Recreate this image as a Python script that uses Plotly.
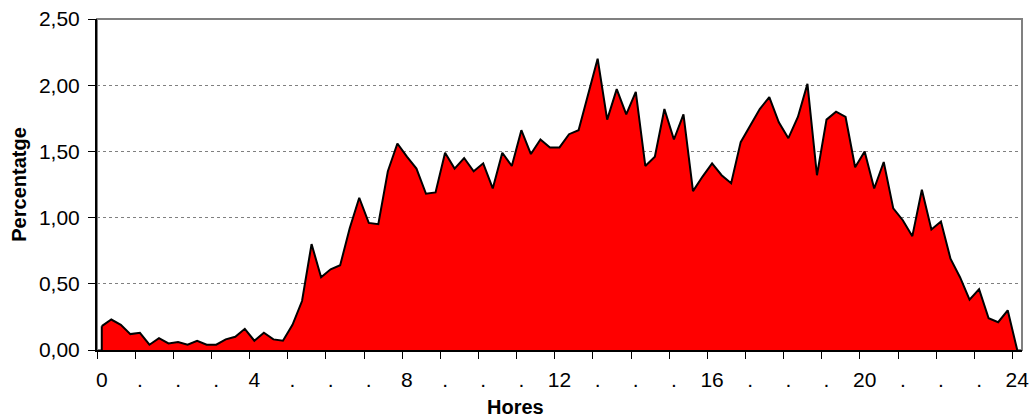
import plotly.graph_objects as go

# quarter-hour slots 0..96 (00:00 .. 24:00)
slots = list(range(97))
percent = [
    0.18, 0.23, 0.19, 0.12, 0.13, 0.04, 0.09, 0.05, 0.06, 0.04, 0.07, 0.04,
    0.04, 0.08, 0.10, 0.16, 0.07, 0.13, 0.08, 0.07, 0.19, 0.37, 0.80, 0.55,
    0.61, 0.64, 0.92, 1.15, 0.96, 0.95, 1.35, 1.56, 1.46, 1.37, 1.18, 1.19,
    1.49, 1.37, 1.45, 1.35, 1.41, 1.22, 1.49, 1.39, 1.66, 1.48, 1.59, 1.53,
    1.53, 1.63, 1.66, 1.93, 2.20, 1.74, 1.97, 1.78, 1.95, 1.39, 1.46, 1.82,
    1.59, 1.78, 1.20, 1.31, 1.41, 1.32, 1.26, 1.57, 1.70, 1.82, 1.91, 1.72,
    1.60, 1.76, 2.01, 1.32, 1.74, 1.80, 1.76, 1.38, 1.50, 1.22, 1.42, 1.07,
    0.98, 0.86, 1.21, 0.91, 0.97, 0.69, 0.55, 0.38, 0.46, 0.24, 0.21, 0.30,
    0.00,
]

# one label per hour, numbers every 4 hours
hour_labels = [str(h) if h % 4 == 0 else "." for h in range(25)]
label_pos = [h * 4 for h in range(25)]
tick_pos = [h * 4 - 0.5 for h in range(25)]  # ticks sit between categories

FONT = "Liberation Sans, Arial, sans-serif"

fig = go.Figure()
fig.add_trace(go.Scatter(
    x=slots, y=percent, mode="lines", fill="tozeroy",
    fillcolor="#FF0000", line=dict(color="black", width=2),
    showlegend=False, hoverinfo="x+y"
))
# closing edge of the area at the first slot
fig.add_trace(go.Scatter(
    x=[slots[0], slots[0]], y=[0, percent[0]], mode="lines",
    line=dict(color="black", width=2), showlegend=False, hoverinfo="skip"
))
# invisible trace so the label axis gets drawn
fig.add_trace(go.Scatter(
    x=slots, y=percent, xaxis="x2", mode="none",
    showlegend=False, hoverinfo="skip"
))

fig.update_layout(
    width=1031, height=417,
    paper_bgcolor="white", plot_bgcolor="white",
    margin=dict(l=97, r=9, t=19, b=67, autoexpand=False),
    separators=",.",
    font=dict(family=FONT, size=21, color="black"),
    xaxis=dict(
        range=[-0.5, 96.5], tickmode="array", tickvals=tick_pos,
        showticklabels=False, ticks="outside", ticklen=7, tickcolor="black",
        showline=True, linecolor="black", linewidth=2,
        showgrid=False, zeroline=False, automargin=False,
    ),
    xaxis2=dict(
        overlaying="x", anchor="y", side="bottom",
        range=[-0.5, 96.5], tickmode="array",
        tickvals=label_pos, ticktext=hour_labels,
        ticks="outside", ticklen=7, tickcolor="rgba(0,0,0,0)",
        ticklabelstandoff=4, ticklabeloverflow="allow",
        showline=False, showgrid=False, zeroline=False, automargin=False,
    ),
    yaxis=dict(
        range=[0, 2.5], dtick=0.5, tickformat=".2f",
        ticks="outside", ticklen=7, tickcolor="black",
        showline=True, linecolor="black", linewidth=2,
        ticklabelstandoff=4, ticklabeloverflow="allow",
        showgrid=True, gridcolor="#808080", griddash="dot", gridwidth=1,
        zeroline=False, automargin=False,
        title=dict(text="<b>Percentatge</b>", standoff=7,
                   font=dict(size=20)),
    ),
    shapes=[dict(type="rect", xref="paper", yref="paper", x0=0, x1=1,
                 y0=0, y1=1, line=dict(color="#808080", width=2),
                 layer="below")],
    annotations=[dict(text="<b>Hores</b>", xref="paper", yref="paper",
                      x=0.4524, y=-0.172, xanchor="center", yanchor="middle",
                      showarrow=False, font=dict(size=20))],
)

# drop the default body margin so the figure fills the window exactly
fig.write_html("out.html", config={"displayModeBar": False},
               post_script="document.body.style.margin='0';")
